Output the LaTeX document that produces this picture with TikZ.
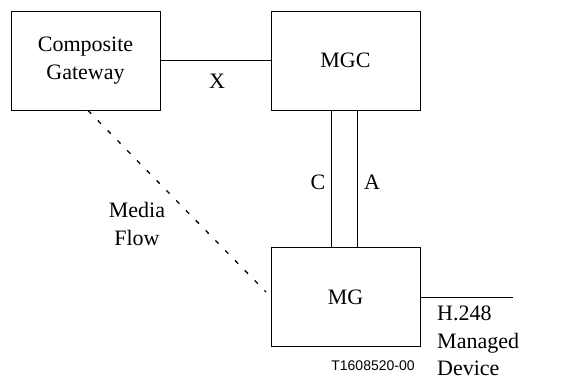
\documentclass[tikz,border=0pt]{standalone}
\usepackage{fontspec}
\setmainfont{Liberation Serif}
\setsansfont{Liberation Sans}
\usepackage{tikz}

\tikzset{
  unit/.style={draw,line width=0.9pt,minimum width=149pt,minimum height=99pt,align=center,inner sep=0pt},
  lbl/.style={align=center,inner sep=0pt}
}

\begin{document}
\begin{tikzpicture}[x=1pt,y=-1pt,font=\fontsize{22}{27.5}\selectfont]
  \useasboundingbox (0,0) rectangle (574,378);
      \node[unit] (cg) at (85.5,60.5) {Composite\\Gateway};
      \node[unit] (mgc) at (345.5,60.5) {MGC};
      \node[unit] (mg) at (345.5,297) {MG};
      \coordinate (mfend) at (266,292);
      \coordinate (devend) at (513,297);
    \draw[line width=0.9pt] (cg) -- (mgc);
    \draw[line width=0.9pt] ([xshift=-14pt]mgc.south) -- ([xshift=-14pt]mg.north);
    \draw[line width=0.9pt] ([xshift=12pt]mgc.south) -- ([xshift=12pt]mg.north);
    \draw[line width=1.3pt,dash pattern=on 4.5pt off 9.5pt] ([xshift=2.5pt]cg.south) -- (mfend);
    \draw[line width=0.9pt] (mg) -- (devend);
      \node[lbl] (xl) at (217,81) {X};
      \node[lbl] (cl) at (318,182) {C};
      \node[lbl] (al) at (372,182) {A};
      \node[lbl] (mfl) at (137,224) {Media\\Flow};
      \node[lbl,anchor=west,align=left] (devl) at (437,341) {H.248\\Managed\\Device};
      \node[lbl,font=\sffamily\fontsize{14}{16}\selectfont] (fig) at (373,366) {T1608520-00};
\end{tikzpicture}
\end{document}
